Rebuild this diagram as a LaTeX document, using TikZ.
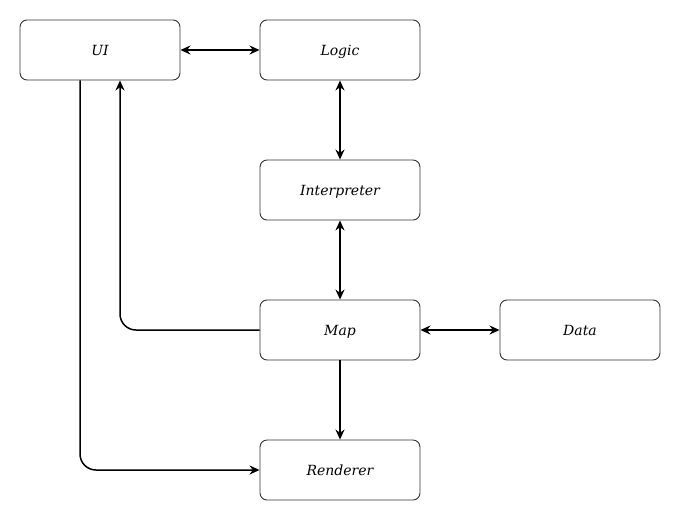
\documentclass[tikz,border=0pt]{standalone}
\usepackage{fontspec}
\setmainfont{DejaVu Serif}
\usetikzlibrary{arrows.meta}
\begin{document}
\begin{tikzpicture}[x=1pt,y=-1pt,
  box/.style={draw=black!80, line width=0.9pt, rounded corners=7pt, minimum width=160pt, minimum height=60pt, inner sep=0pt, text=black, text depth=-2pt, font=\fontsize{14}{16}\selectfont\itshape},
  conn/.style={line width=1.5pt, -{Stealth[length=10pt,width=9pt]}},
  bconn/.style={line width=1.5pt, {Stealth[length=10pt,width=9pt]}-{Stealth[length=10pt,width=9pt]}}]
\useasboundingbox (0,0) rectangle (680,520);
\node[box] (ui) at (100,50) {UI};
\node[box] (logic) at (340,50) {Logic};
\node[box] (interp) at (340,190) {Interpreter};
\node[box] (map) at (340,330) {Map};
\node[box] (data) at (580,330) {Data};
\node[box] (rend) at (340,470) {Renderer};
\draw[bconn] (ui.east) -- (logic.west);
\draw[bconn] (logic.south) -- (interp.north);
\draw[bconn] (interp.south) -- (map.north);
\draw[bconn] (map.east) -- (data.west);
\draw[conn] (map.south) -- (rend.north);
\draw[conn, rounded corners=16pt] (map.west) -| ([xshift=20pt]ui.south);
\draw[conn, rounded corners=16pt] ([xshift=-20pt]ui.south) |- (rend.west);
\end{tikzpicture}
\end{document}
